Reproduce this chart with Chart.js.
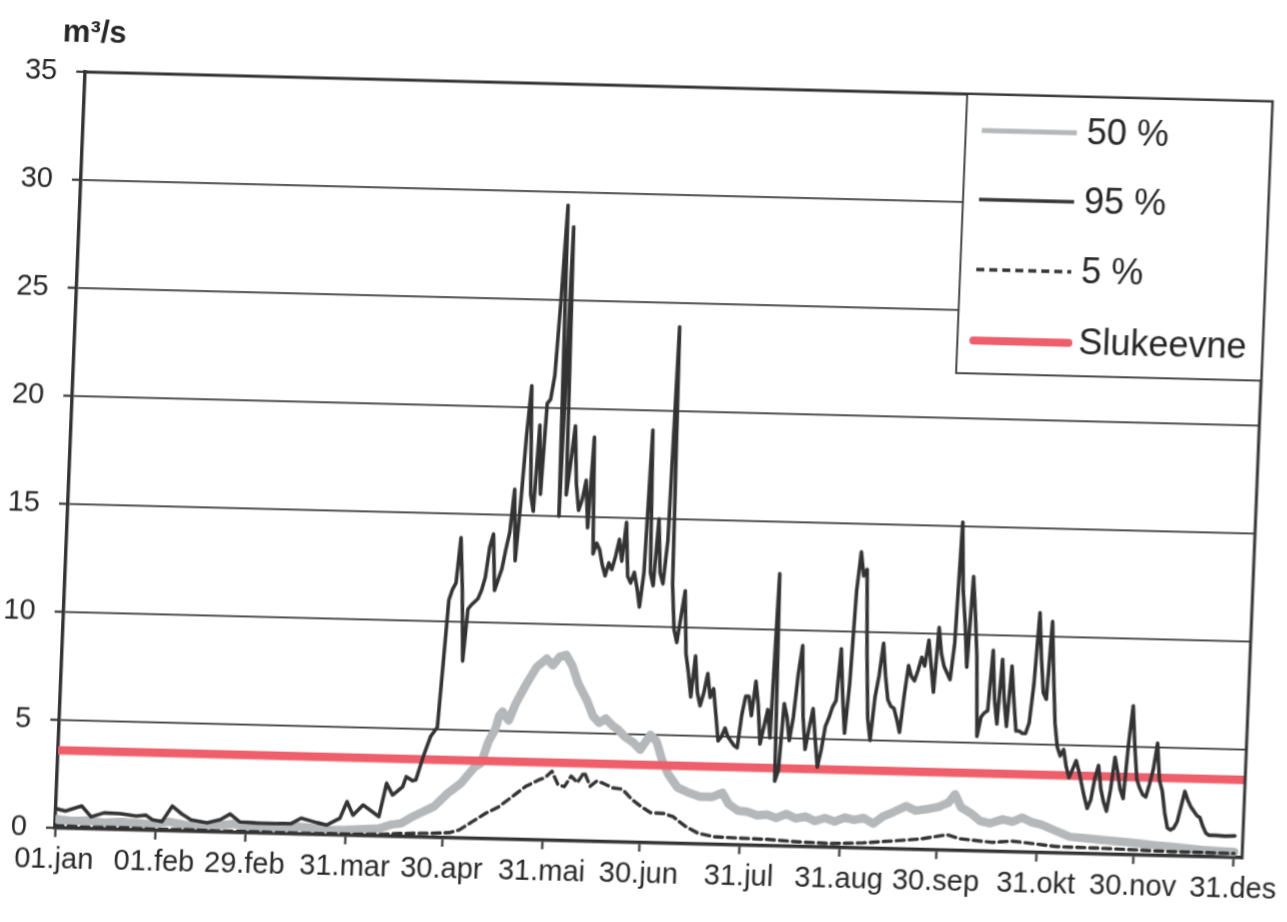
<!DOCTYPE html>
<html><head><meta charset="utf-8">
<style>
html,body{margin:0;padding:0;background:#fff;overflow:hidden;width:1287px;height:922px;}
#wrap{position:absolute;left:-40px;top:0;width:1367px;height:922px;transform-origin:95px 828px;transform:matrix(1,0.025,-0.04,1,0,0);}
canvas{display:block;}
</style>
<script src="https://cdn.jsdelivr.net/npm/chart.js@4.4.0/dist/chart.umd.min.js"></script>
</head><body>
<div id="wrap"><canvas id="c" width="1367" height="922"></canvas></div>
<script>
// x = day index from 01.jan (leap year), y = m3/s
const tickDays   = [0,31,59,90,120,151,181,212,243,273,304,334,365];
const tickLabels = ['01.jan','01.feb','29.feb','31.mar','30.apr','31.mai','30.jun','31.jul','31.aug','30.sep','31.okt','30.nov','31.des'];
const seriesNames = ['50 %','95 %','5 %','Slukeevne'];
const unitLabel = 'm³/s';

const p50 = [[0,0.42],[5,0.35],[10,0.38],[15,0.3],[20,0.36],[25,0.32],[30,0.28],[35,0.42],[40,0.3],[45,0.28],[50,0.3],[55,0.4],[60,0.28],[65,0.25],[70,0.22],[75,0.35],[80,0.3],[85,0.22],[90,0.25],[95,0.3],[100,0.35],[104,0.55],[107,0.62],[110,0.9],[113,1.13],[117,1.44],[121,2.06],[125,2.54],[129,3.3],[131,3.5],[133,4.5],[135,5.1],[136,5.7],[137,5.9],[139,5.5],[141,6.3],[144,7.2],[147,8.0],[150,8.4],[152,8.1],[154,8.5],[156,8.6],[158,8.1],[160,7.3],[163,6.5],[165,5.8],[167,5.5],[169,5.7],[171,5.4],[173,5.2],[175,4.9],[178,4.6],[180,4.3],[183,5.0],[185,4.7],[187,3.8],[189,3.2],[192,2.6],[195,2.4],[199,2.2],[203,2.2],[206,2.4],[208,1.9],[211,1.6],[214,1.55],[217,1.4],[220,1.45],[223,1.3],[226,1.5],[229,1.3],[232,1.4],[235,1.2],[238,1.35],[241,1.2],[244,1.4],[247,1.3],[250,1.4],[253,1.15],[256,1.5],[259,1.7],[263,2.0],[266,1.8],[270,1.9],[273,2.0],[276,2.2],[278,2.6],[280,2.0],[283,1.75],[286,1.4],[289,1.3],[293,1.5],[296,1.4],[299,1.6],[302,1.4],[305,1.3],[309,1.06],[314,0.77],[319,0.72],[324,0.66],[330,0.6],[335,0.54],[340,0.48],[345,0.43],[350,0.37],[355,0.31],[360,0.28],[365,0.26]];

const p95 = [[0,0.9],[3,0.8],[8,1.05],[11,0.56],[15,0.76],[20,0.74],[25,0.65],[28,0.7],[30,0.5],[33,0.42],[36,1.15],[39,0.8],[42,0.53],[47,0.42],[51,0.58],[54,0.85],[57,0.5],[62,0.47],[68,0.46],[73,0.48],[76,0.74],[81,0.55],[84,0.45],[86,0.62],[88,0.78],[90,1.56],[92,0.94],[95,1.42],[100,0.9],[102,2.45],[104,1.92],[107,2.31],[108,2.78],[110,2.6],[111,2.64],[113,3.73],[115,4.66],[117,5.1],[118,8.0],[119,11.0],[120,11.5],[121,11.8],[122,13.9],[123,11.6],[124,8.2],[125,10.6],[126,10.8],[128,11.1],[129,11.5],[130,12.1],[131,13.5],[132,14.1],[133,11.5],[134,12.0],[135,12.5],[136,13.4],[137,14.2],[138,16.2],[139,12.9],[140,15.5],[141,18.7],[142,21.0],[143,16.0],[144,15.2],[145,19.2],[146,16.0],[147,20.2],[148,20.4],[149,21.5],[150,25.0],[151,29.4],[152,15.0],[153,28.4],[154,16.0],[155,17.5],[156,19.2],[157,16.5],[158,15.3],[159,15.8],[160,16.7],[161,14.5],[162,18.7],[163,13.3],[164,13.8],[165,13.5],[166,12.8],[167,12.3],[168,12.9],[169,12.6],[170,13.2],[171,14.0],[172,13.0],[173,14.8],[174,12.3],[175,12.0],[176,12.5],[177,11.8],[178,10.9],[179,12.5],[180,19.1],[181,12.5],[182,11.9],[183,15.0],[184,12.5],[185,12.0],[186,14.0],[187,23.9],[188,12.0],[189,9.9],[190,9.3],[191,10.5],[192,11.7],[193,8.8],[194,7.9],[195,6.8],[196,8.7],[197,7.0],[198,6.4],[199,7.0],[200,7.9],[201,6.8],[202,7.2],[203,6.0],[204,4.8],[205,5.0],[206,5.4],[207,5.0],[208,4.8],[209,4.6],[210,4.5],[211,6.0],[212,6.9],[213,6.9],[214,6.0],[215,7.6],[216,6.5],[217,4.7],[218,5.5],[219,6.3],[220,5.0],[221,12.6],[222,3.0],[223,3.5],[224,6.6],[225,6.0],[226,4.9],[227,6.0],[228,8.0],[229,9.3],[230,6.0],[231,4.5],[232,5.5],[233,6.4],[234,5.0],[235,3.7],[236,4.5],[237,5.6],[238,6.0],[239,6.5],[240,6.8],[241,9.2],[242,7.0],[243,5.3],[244,7.6],[245,11.9],[246,13.7],[247,12.6],[248,12.9],[249,9.0],[250,6.0],[251,5.0],[252,7.0],[253,8.0],[254,9.5],[255,8.0],[256,6.9],[257,6.6],[258,6.5],[259,6.0],[260,5.4],[261,7.1],[262,8.5],[263,8.0],[264,7.8],[265,8.3],[266,8.9],[267,8.5],[268,9.7],[269,8.5],[270,7.3],[271,10.3],[272,9.1],[273,8.5],[274,8.2],[275,7.9],[276,9.6],[277,15.2],[278,12.0],[279,10.5],[280,8.5],[281,12.7],[282,11.0],[283,9.0],[284,5.3],[285,6.2],[286,6.4],[287,6.5],[288,9.3],[289,7.0],[290,5.9],[291,8.9],[292,7.0],[293,5.8],[294,8.6],[295,7.0],[296,5.6],[297,5.6],[298,5.5],[299,5.5],[300,6.0],[301,7.8],[302,11.1],[303,9.0],[304,7.4],[305,7.1],[306,10.7],[307,8.2],[308,6.0],[309,4.9],[310,4.5],[311,4.8],[312,4.0],[313,3.5],[314,3.9],[315,4.3],[316,3.8],[317,3.2],[318,2.6],[319,2.1],[320,2.5],[321,3.5],[322,4.1],[323,3.0],[324,2.4],[325,2.0],[326,3.0],[327,4.5],[328,3.8],[329,3.0],[330,2.6],[331,5.1],[332,6.9],[333,5.0],[334,3.5],[335,3.1],[336,2.8],[337,2.7],[338,3.3],[339,4.0],[340,5.2],[341,3.5],[342,3.0],[343,2.0],[344,1.3],[345,1.2],[346,1.3],[347,1.6],[348,2.3],[349,3.0],[350,2.6],[351,2.3],[352,2.1],[353,1.9],[354,1.8],[355,1.4],[356,1.1],[357,1.0],[359,1.0],[362,0.98],[365,1.0]];

const p5 = [[0,0.12],[10,0.08],[20,0.1],[30,0.06],[40,0.08],[50,0.05],[60,0.06],[70,0.05],[80,0.05],[90,0.06],[100,0.08],[107,0.15],[117,0.2],[122,0.24],[125,0.38],[129,0.78],[133,1.18],[137,1.5],[141,1.98],[145,2.46],[149,2.78],[151,2.9],[153,3.2],[155,2.6],[157,2.5],[159,3.0],[161,2.7],[163,3.2],[165,2.55],[167,2.8],[169,2.7],[172,2.5],[175,2.45],[178,2.0],[181,1.67],[184,1.4],[188,1.38],[191,1.24],[195,0.8],[199,0.5],[204,0.36],[210,0.33],[220,0.3],[230,0.22],[240,0.18],[250,0.25],[260,0.38],[268,0.5],[276,0.72],[280,0.55],[290,0.42],[296,0.5],[300,0.45],[310,0.3],[325,0.27],[345,0.2],[365,0.19]];

const slukeevne = [[0,3.6],[367.5,3.6]];

const xMax = 367.5, yMax = 35, yStep = 5;
const FONT = '"Liberation Sans", Arial, sans-serif';
const TXT = '#262626', INK = '#333333';

const pts = a => a.map(p => ({x:p[0], y:p[1]}));

const frame = {
  id:'frame',
  afterDatasetsDraw(chart){
    const {ctx, chartArea:a} = chart;
    ctx.save();
    ctx.strokeStyle = INK; ctx.lineWidth = 3; ctx.lineCap='square';
    ctx.beginPath();
    ctx.moveTo(a.left, a.top); ctx.lineTo(a.right, a.top); ctx.lineTo(a.right, a.bottom);
    ctx.stroke();
    ctx.restore();
  }
};
const unitTitle = {
  id:'unitTitle',
  afterDraw(chart){
    const {ctx, chartArea:a} = chart;
    ctx.save();
    ctx.font = 'bold 31px ' + FONT; ctx.fillStyle = TXT;
    ctx.textBaseline = 'middle'; ctx.textAlign = 'left';
    ctx.fillText(unitLabel, a.left - 24, 33);
    ctx.restore();
  }
};
const boxLegend = {
  id:'boxLegend',
  afterDraw(chart){
    const {ctx, chartArea:a} = chart;
    const w = 305, h = 279, x0 = a.right - w, y0 = a.top;
    const rows = [36,105,175,246];
    const sampleW = [5, 3.5, 3.5, 8];
    ctx.save();
    ctx.fillStyle = '#fff'; ctx.fillRect(x0, y0, w, h);
    ctx.strokeStyle = INK; ctx.lineWidth = 1.8; ctx.strokeRect(x0, y0, w, h);
    chart.data.datasets.forEach((ds, i) => {
      const y = y0 + rows[i];
      ctx.beginPath();
      ctx.strokeStyle = ds.borderColor; ctx.lineWidth = sampleW[i];
      ctx.setLineDash(ds.borderDash || []); ctx.lineCap = i === 3 ? 'round' : 'butt';
      ctx.moveTo(x0 + 16, y); ctx.lineTo(x0 + 111, y); ctx.stroke();
      ctx.setLineDash([]);
      ctx.fillStyle = TXT; ctx.font = '36px ' + FONT;
      ctx.textBaseline = 'middle'; ctx.textAlign = 'left';
      ctx.fillText(ds.label, x0 + 121, y + 1);
    });
    ctx.restore();
  }
};

Chart.defaults.font.family = FONT;
new Chart(document.getElementById('c'), {
  type:'line',
  data:{ datasets:[
    {label:seriesNames[0], data:pts(p50), borderColor:'#b5b8ba', borderWidth:8.5, order:4},
    {label:seriesNames[1], data:pts(p95), borderColor:INK, borderWidth:3.6, order:1},
    {label:seriesNames[2], data:pts(p5), borderColor:INK, borderWidth:3.4, borderDash:[8,5], order:2},
    {label:seriesNames[3], data:pts(slukeevne), borderColor:'#ef5f6b', borderWidth:8.5, order:3}
  ]},
  options:{
    responsive:false, animation:false, devicePixelRatio:1,
    layout:{padding:{left:0, right:85, top:72, bottom:0}},
    elements:{ point:{radius:0}, line:{tension:0, borderJoinStyle:'round', borderCapStyle:'round', fill:false} },
    plugins:{ legend:{display:false}, tooltip:{enabled:false} },
    scales:{
      x:{ type:'linear', min:0, max:xMax,
        afterBuildTicks: s => { s.ticks = tickDays.map(v => ({value:v})); },
        afterFit: s => { s.height = 94; },
        ticks:{ autoSkip:false, maxRotation:0, padding:6, color:TXT, font:{size:29} ,
          callback: v => { const i = tickDays.indexOf(v); return i >= 0 ? tickLabels[i] : ''; } },
        grid:{ drawOnChartArea:false, tickLength:9, tickColor:INK, tickWidth:2.2 },
        border:{ color:INK, width:3.4 }
      },
      y:{ min:0, max:yMax,
        afterFit: s => { s.width = 95; },
        ticks:{ stepSize:yStep, padding:19, color:TXT, font:{size:29} },
        grid:{ color:'#383838', lineWidth:1.7, tickLength:9, tickColor:INK, tickWidth:2.2 },
        border:{ color:INK, width:3.4 }
      }
    }
  },
  plugins:[frame, unitTitle, boxLegend]
});
</script>
</body></html>
